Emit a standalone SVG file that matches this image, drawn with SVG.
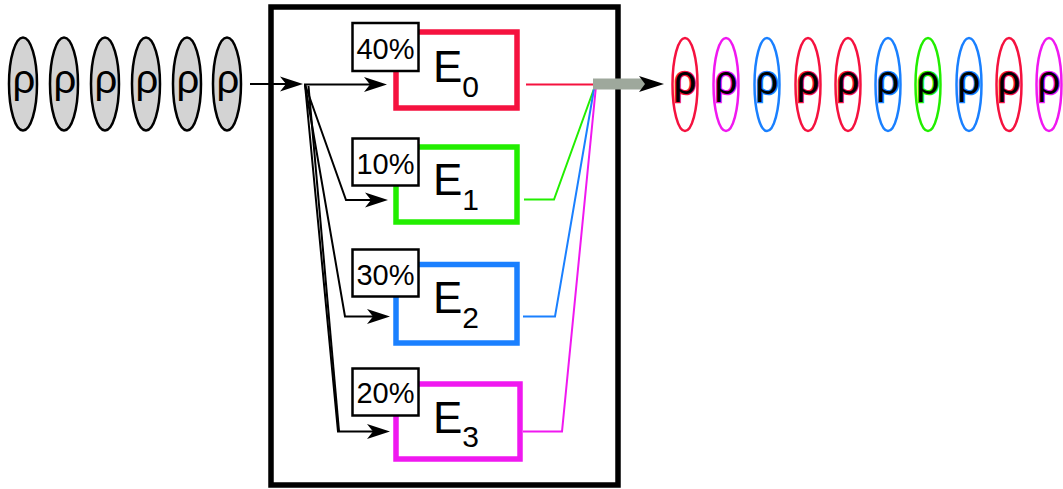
<svg xmlns="http://www.w3.org/2000/svg" width="1063" height="489" viewBox="0 0 1063 489">
<style>
  .bg { fill: #ffffff; }
  .frame { fill: none; stroke: #000; stroke-width: 5.5; }
  .inEl { fill: #d3d3d3; stroke: #000; stroke-width: 2.5; }
  .outEl { fill: #ffffff; stroke-width: 2.5; }
  .rhoIn { font-family: "Liberation Sans", Arial, sans-serif; font-size: 40px; fill: #000; text-anchor: middle; }
  .rhoOut { font-family: "Liberation Sans", Arial, sans-serif; font-size: 40px; fill: #000; text-anchor: middle; stroke-width: 2.6; paint-order: stroke; }
  .exp { fill: #ffffff; stroke-width: 5.5; }
  .lab { fill: #ffffff; stroke: #000; stroke-width: 2.5; }
  .labT { font-family: "Liberation Sans", Arial, sans-serif; font-size: 29px; fill: #000; text-anchor: middle; }
  .eT { font-family: "Liberation Sans", Arial, sans-serif; font-size: 44px; fill: #000; }
  .sub { font-size: 30px; }
  .arr { fill: none; stroke: #000; stroke-width: 2; marker-end: url(#ah); }
  .blk { fill: none; stroke: #000; stroke-width: 2; }
  .out { fill: none; stroke-width: 2; }
  .red { stroke: #f5123f; }
  .grn { stroke: #22ee00; }
  .blu { stroke: #1a80ff; }
  .mag { stroke: #f018f0; }
</style>
<defs>
  <marker id="ah" viewBox="-26 -9 27 18" markerWidth="27" markerHeight="18" refX="-17" refY="0" orient="auto" markerUnits="userSpaceOnUse">
    <path d="M0,0 L-23,-7.5 L-17,0 L-23,7.5 Z" fill="#000"/>
  </marker>
  <marker id="ahBig" viewBox="-27 -9 28 18" markerWidth="28" markerHeight="18" refX="-19" refY="0" orient="auto" markerUnits="userSpaceOnUse">
    <path d="M0,0 L-25,-8 L-19,0 L-25,8 Z" fill="#000"/>
  </marker>
</defs>
<rect class="bg" x="0" y="0" width="1063" height="489"/>

<g id="moe-frame">
  <rect class="frame" x="271" y="7" width="347" height="478"/>
</g>

<g id="input-tokens">
  <ellipse class="inEl" cx="23" cy="84" rx="14" ry="46.5"/>
  <ellipse class="inEl" cx="64" cy="84" rx="14" ry="46.5"/>
  <ellipse class="inEl" cx="105" cy="84" rx="14" ry="46.5"/>
  <ellipse class="inEl" cx="146" cy="84" rx="14" ry="46.5"/>
  <ellipse class="inEl" cx="187" cy="84" rx="14" ry="46.5"/>
  <ellipse class="inEl" cx="227" cy="84" rx="14" ry="46.5"/>
  <text class="rhoIn" x="24" y="93">ρ</text>
  <text class="rhoIn" x="65" y="93">ρ</text>
  <text class="rhoIn" x="106" y="93">ρ</text>
  <text class="rhoIn" x="147" y="93">ρ</text>
  <text class="rhoIn" x="188" y="93">ρ</text>
  <text class="rhoIn" x="228" y="93">ρ</text>
</g>

<g id="connectors">
  <line class="arr" x1="250" y1="84" x2="286" y2="84"/>
  <line class="arr" x1="304" y1="84.5" x2="370" y2="84.5"/>
  <polyline class="arr" points="305,84.5 346,200 371,200"/>
  <polyline class="arr" points="305,84.5 345,316.5 373,316.5"/>
  <polyline class="arr" points="305,84.5 338,431.5 373,431.5"/>
  <line class="blk" x1="308.5" y1="86" x2="339" y2="431"/>

  <line class="out red" x1="526" y1="84.5" x2="597" y2="84.5"/>
  <polyline class="out grn" points="524,199.5 554,199.5 595,86"/>
  <polyline class="out blu" points="523,316.5 555,316.5 594.5,86"/>
  <polyline class="out mag" points="523,431.5 562,431.5 596,86"/>

  <line x1="593" y1="84" x2="645" y2="84" stroke="#9ea89c" stroke-width="11" marker-end="url(#ahBig)"/>
</g>

<g id="expert-0">
  <rect class="exp red" x="396" y="32" width="121" height="76"/>
  <rect class="lab" x="352.5" y="23" width="66" height="48"/>
  <text class="labT" x="385.5" y="58.5">40%</text>
  <text class="eT" x="433" y="81.7">E<tspan class="sub" dy="15">0</tspan></text>
</g>

<g id="expert-1">
  <rect class="exp grn" x="396" y="147" width="121" height="75"/>
  <rect class="lab" x="352.5" y="138.5" width="66" height="47"/>
  <text class="labT" x="385.5" y="173.5">10%</text>
  <text class="eT" x="433" y="195">E<tspan class="sub" dy="15">1</tspan></text>
</g>

<g id="expert-2">
  <rect class="exp blu" x="396" y="264.5" width="121" height="78.5"/>
  <rect class="lab" x="352.5" y="249.5" width="66" height="47"/>
  <text class="labT" x="385.5" y="285">30%</text>
  <text class="eT" x="433" y="313.3">E<tspan class="sub" dy="15">2</tspan></text>
</g>

<g id="expert-3">
  <rect class="exp mag" x="396" y="384" width="124" height="75"/>
  <rect class="lab" x="352.5" y="368.5" width="66" height="47"/>
  <text class="labT" x="385.5" y="403.3">20%</text>
  <text class="eT" x="433" y="433.3">E<tspan class="sub" dy="14">3</tspan></text>
</g>

<g id="output-tokens">
  <ellipse class="outEl red" cx="685" cy="84.5" rx="12.5" ry="46.5"/>
  <ellipse class="outEl mag" cx="726" cy="84.5" rx="12.5" ry="46.5"/>
  <ellipse class="outEl blu" cx="767" cy="84.5" rx="12.5" ry="46.5"/>
  <ellipse class="outEl red" cx="808" cy="84.5" rx="12.5" ry="46.5"/>
  <ellipse class="outEl red" cx="848" cy="84.5" rx="12.5" ry="46.5"/>
  <ellipse class="outEl blu" cx="888" cy="84.5" rx="12.5" ry="46.5"/>
  <ellipse class="outEl grn" cx="928" cy="84.5" rx="12.5" ry="46.5"/>
  <ellipse class="outEl blu" cx="969" cy="84.5" rx="12.5" ry="46.5"/>
  <ellipse class="outEl red" cx="1009" cy="84.5" rx="12.5" ry="46.5"/>
  <ellipse class="outEl mag" cx="1049" cy="84.5" rx="12.5" ry="46.5"/>
  <text class="rhoOut red" x="685" y="94">ρ</text>
  <text class="rhoOut mag" x="726" y="94">ρ</text>
  <text class="rhoOut blu" x="767" y="94">ρ</text>
  <text class="rhoOut red" x="808" y="94">ρ</text>
  <text class="rhoOut red" x="848" y="94">ρ</text>
  <text class="rhoOut blu" x="888" y="94">ρ</text>
  <text class="rhoOut grn" x="928" y="94">ρ</text>
  <text class="rhoOut blu" x="969" y="94">ρ</text>
  <text class="rhoOut red" x="1009" y="94">ρ</text>
  <text class="rhoOut mag" x="1049" y="94">ρ</text>
</g>
</svg>
